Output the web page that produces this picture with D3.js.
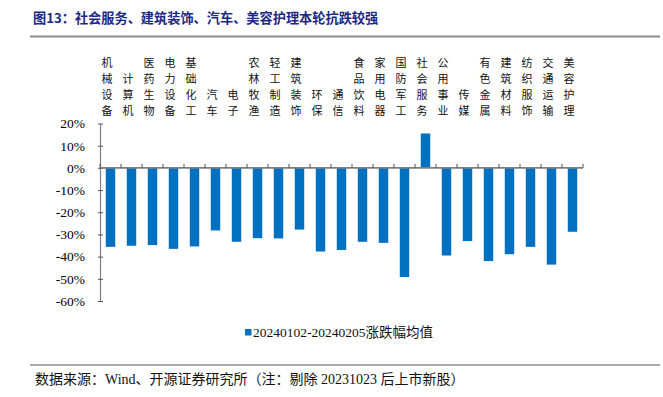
<!DOCTYPE html>
<html><head><meta charset="utf-8">
<script src="https://cdn.jsdelivr.net/npm/d3@7"></script>
<style>
html,body{margin:0;padding:0;background:#fff;}
svg{display:block;}
</style></head>
<body>
<svg id="chart" width="663" height="397"></svg>
<script>
const categories = ["机械设备","计算机","医药生物","电力设备","基础化工","汽车","电子","农林牧渔","轻工制造","建筑装饰","环保","通信","食品饮料","家用电器","国防军工","社会服务","公用事业","传媒","有色金属","建筑材料","纺织服饰","交通运输","美容护理"];
const values = [-35.6,-35.1,-34.8,-36.5,-35.4,-28.2,-33.3,-31.7,-31.8,-27.8,-37.7,-37.0,-33.3,-33.8,-49.2,15.5,-39.5,-33.0,-42.0,-38.9,-35.6,-43.6,-28.8];
const yTicks = [20,10,0,-10,-20,-30,-40,-50,-60];
const seriesName = "20240102-20240205涨跌幅均值";
const titleText = "图13：社会服务、建筑装饰、汽车、美容护理本轮抗跌较强";
const sourceText = "数据来源：Wind、开源证券研究所（注：剔除 20231023 后上市新股）";

const svg = d3.select("#chart");
const serif = "'Liberation Serif','Noto Sans CJK SC',serif";
const cjk = "'Noto Sans CJK SC',sans-serif";

// Title
svg.append("text").attr("x",33).attr("y",23)
  .attr("font-family",cjk).attr("font-weight","bold").attr("font-size",13.2)
  .attr("fill","#1c2a85").text(titleText);
svg.append("line").attr("x1",30).attr("x2",660).attr("y1",36.5).attr("y2",36.5)
  .attr("stroke","#8c8c8c").attr("stroke-width",2);

const y = d3.scaleLinear().domain([-60,20]).range([301,123.5]);
const xb = d3.scaleBand().domain(categories).range([100,583]).padding(0);
const x = d3.scaleBand().domain(categories).range([100,583]).paddingInner(0.55).paddingOuter(0.275);

// Bars
svg.append("g").selectAll("rect").data(categories).join("rect")
  .attr("x",d=>x(d)).attr("width",x.bandwidth())
  .attr("y",(d,i)=>y(Math.max(0,values[i])))
  .attr("height",(d,i)=>Math.abs(y(values[i])-y(0)))
  .attr("fill","#0070c0");

// Y axis
const yAxis = svg.append("g").attr("transform","translate(100,0)")
  .call(d3.axisLeft(y).tickValues(yTicks).tickFormat(d=>d+"%").tickSizeInner(-3).tickSizeOuter(0).tickPadding(15));
yAxis.select(".domain").attr("stroke","#7f7f7f").attr("stroke-width",1.2);
yAxis.selectAll(".tick line").attr("stroke","#555").attr("x1",-2).attr("x2",3);
yAxis.selectAll("text").attr("font-family",serif).attr("font-size",13.5).attr("fill","#000");

// X axis at zero
const zeroY = y(0);
svg.append("line").attr("x1",xb.range()[0]).attr("x2",xb.range()[1])
  .attr("y1",zeroY).attr("y2",zeroY).attr("stroke","#7f7f7f").attr("stroke-width",1.6);
const bounds = categories.map(d=>xb(d)).concat([xb.range()[1]]);
svg.append("g").selectAll("line").data(bounds).join("line")
  .attr("x1",d=>d).attr("x2",d=>d).attr("y1",zeroY).attr("y2",zeroY-4)
  .attr("stroke","#555").attr("stroke-width",1);

// Category labels (vertical, bottom aligned)
const lineH = 15.9, lastY = 114.5;
svg.append("g").selectAll("text").data(categories).join("text")
  .attr("text-anchor","middle").attr("font-family",cjk).attr("font-size",11).attr("fill","#111")
  .each(function(c){
    const chars = Array.from(c);
    const cx = xb(c)+xb.bandwidth()/2-3.5;
    const t = d3.select(this);
    chars.forEach((ch,k)=>{
      t.append("tspan").attr("x",cx).attr("y",lastY-(chars.length-1-k)*lineH).text(ch);
    });
  });

// Legend
svg.append("rect").attr("x",245).attr("y",329).attr("width",6.5).attr("height",6.5).attr("fill","#0070c0");
svg.append("text").attr("x",253).attr("y",337).attr("font-family",serif).attr("font-size",13.5)
  .attr("fill","#111").text(seriesName);

// Footer
svg.append("line").attr("x1",30).attr("x2",660).attr("y1",365).attr("y2",365)
  .attr("stroke","#8c8c8c").attr("stroke-width",1.6);
svg.append("text").attr("x",35).attr("y",384).attr("font-family",serif).attr("font-size",14)
  .attr("fill","#111").text(sourceText);
</script>
</body></html>
